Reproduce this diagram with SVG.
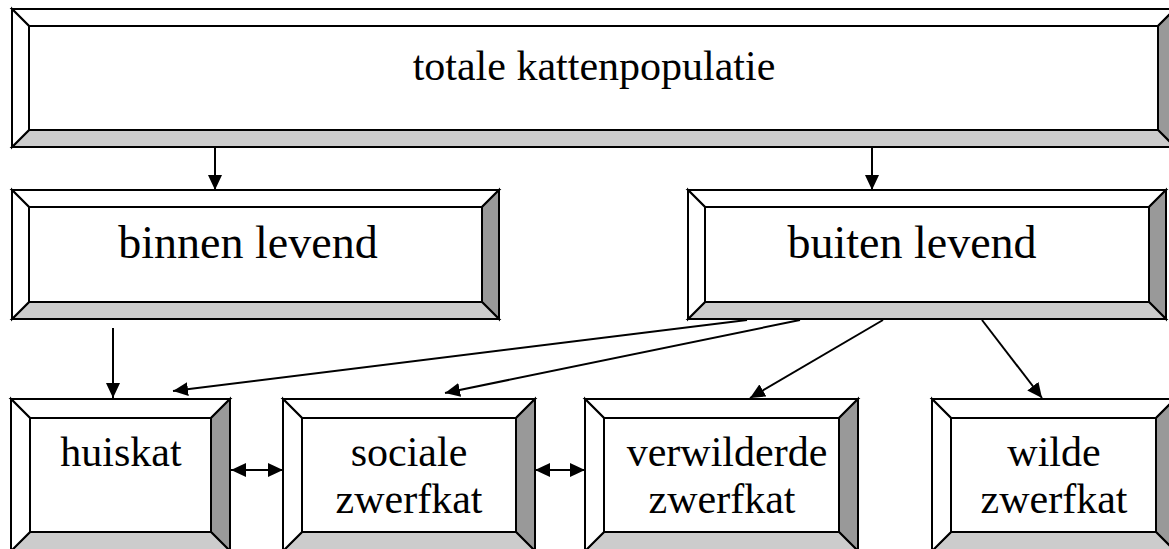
<svg xmlns="http://www.w3.org/2000/svg" width="1169" height="549" viewBox="0 0 1169 549">
<style>
.b polygon, .b rect{stroke:#000;stroke-width:2;stroke-linejoin:miter}
.w{fill:#fff}.r{fill:#999}.d{fill:#ccc}
text{font-family:"Liberation Serif","Times New Roman",serif;font-size:42px;fill:#000;text-anchor:middle}
.big{font-size:46px}
.c line{stroke:#000;stroke-width:2}
</style>
<defs>
<marker id="ah" markerUnits="userSpaceOnUse" markerWidth="16" markerHeight="14" refX="15" refY="7" orient="auto-start-reverse">
<path d="M0,0 L15,7 L0,14 Z" fill="#000"/>
</marker>
</defs>
<rect width="1169" height="549" fill="#fff"/>
<g id="totaal" class="b">
<polygon class="w" points="12,9 1175,9 1158,26 29,26"/>
<polygon class="r" points="1175,9 1175,147 1158,130 1158,26"/>
<polygon class="d" points="1175,147 12,147 29,130 1158,130"/>
<polygon class="w" points="12,147 12,9 29,26 29,130"/>
<rect class="w" x="29" y="26" width="1129" height="104"/>
<text x="594" y="80">totale kattenpopulatie</text>
</g>
<g id="binnen" class="b">
<polygon class="w" points="12,190 499,190 482,207 29,207"/>
<polygon class="r" points="499,190 499,319 482,302 482,207"/>
<polygon class="d" points="499,319 12,319 29,302 482,302"/>
<polygon class="w" points="12,319 12,190 29,207 29,302"/>
<rect class="w" x="29" y="207" width="453" height="95"/>
<text class="big" x="248" y="258">binnen levend</text>
</g>
<g id="buiten" class="b">
<polygon class="w" points="688,190 1166,190 1149,207 705,207"/>
<polygon class="r" points="1166,190 1166,319 1149,302 1149,207"/>
<polygon class="d" points="1166,319 688,319 705,302 1149,302"/>
<polygon class="w" points="688,319 688,190 705,207 705,302"/>
<rect class="w" x="705" y="207" width="444" height="95"/>
<text class="big" x="912" y="258">buiten levend</text>
</g>
<g id="huiskat" class="b">
<polygon class="w" points="11,399 230,399 211,418 30,418"/>
<polygon class="r" points="230,399 230,551 211,532 211,418"/>
<polygon class="d" points="230,551 11,551 30,532 211,532"/>
<polygon class="w" points="11,551 11,399 30,418 30,532"/>
<rect class="w" x="30" y="418" width="181" height="114"/>
<text x="121" y="466">huiskat</text>
</g>
<g id="sociale" class="b">
<polygon class="w" points="283,399 535,399 516,418 302,418"/>
<polygon class="r" points="535,399 535,551 516,532 516,418"/>
<polygon class="d" points="535,551 283,551 302,532 516,532"/>
<polygon class="w" points="283,551 283,399 302,418 302,532"/>
<rect class="w" x="302" y="418" width="214" height="114"/>
<text x="409" y="466">sociale</text>
<text x="409" y="513">zwerfkat</text>
</g>
<g id="verwilderde" class="b">
<polygon class="w" points="585,399 858,399 839,418 604,418"/>
<polygon class="r" points="858,399 858,551 839,532 839,418"/>
<polygon class="d" points="858,551 585,551 604,532 839,532"/>
<polygon class="w" points="585,551 585,399 604,418 604,532"/>
<rect class="w" x="604" y="418" width="235" height="114"/>
<text x="727" y="466">verwilderde</text>
<text x="722" y="513">zwerfkat</text>
</g>
<g id="wilde" class="b">
<polygon class="w" points="932,399 1175,399 1156,418 951,418"/>
<polygon class="r" points="1175,399 1175,551 1156,532 1156,418"/>
<polygon class="d" points="1175,551 932,551 951,532 1156,532"/>
<polygon class="w" points="932,551 932,399 951,418 951,532"/>
<rect class="w" x="951" y="418" width="205" height="114"/>
<text x="1054" y="466">wilde</text>
<text x="1054" y="513">zwerfkat</text>
</g>
<g id="connectors" class="c">
<line x1="215" y1="148" x2="215" y2="190" marker-end="url(#ah)"/>
<line x1="872" y1="148" x2="872" y2="190" marker-end="url(#ah)"/>
<line x1="113" y1="328" x2="113" y2="398" marker-end="url(#ah)"/>
<line x1="747" y1="320" x2="173" y2="391" marker-end="url(#ah)"/>
<line x1="800" y1="320" x2="445" y2="393" marker-end="url(#ah)"/>
<line x1="883" y1="320" x2="750" y2="398" marker-end="url(#ah)"/>
<line x1="982" y1="320" x2="1042" y2="398" marker-end="url(#ah)"/>
<line x1="231" y1="470" x2="283" y2="470" marker-start="url(#ah)" marker-end="url(#ah)"/>
<line x1="535" y1="470" x2="585" y2="470" marker-start="url(#ah)" marker-end="url(#ah)"/>
</g>
</svg>
